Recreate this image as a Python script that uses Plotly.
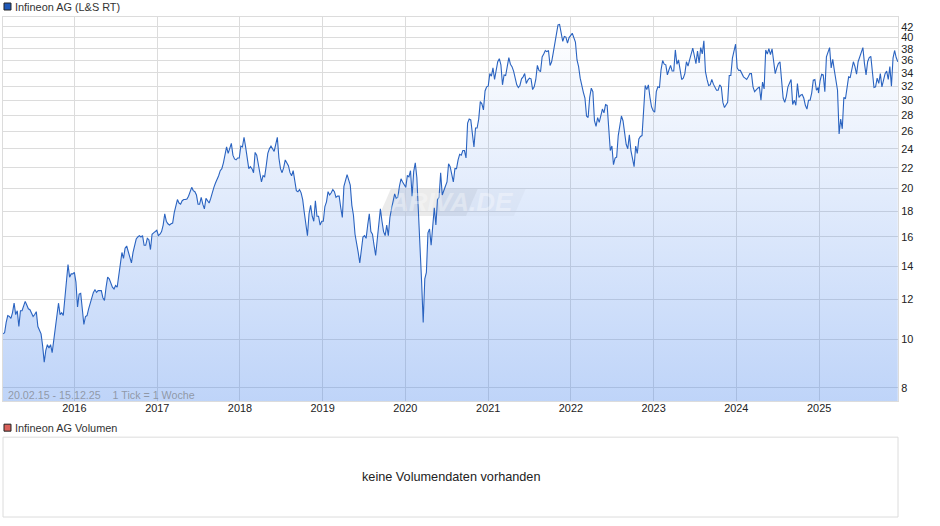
import pandas as pd
import plotly.graph_objects as go

# weekly closes, one list per calendar year
p2015 = [10.25,10.3,10.8,11.15,11.1,11.0,11.3,11.8,11.2,11.4,10.6,11.4,11.4,11.6,11.9,11.7,11.5,11.45,11.3,11.1,
         11.2,11.35,10.6,10.45,10.25,9.7,9.0,9.5,9.75,9.6,9.75,9.4,10.0,10.6,11.0,11.8,11.2,11.3,11.15,12.0,
         13.3,14.1,13.3,13.5,13.5,13.6]
p2016 = [13.0,11.6,12.3,12.35,11.5,10.7,11.1,11.15,11.5,11.8,12.1,12.4,12.55,12.4,12.5,12.5,12.5,12.1,11.95,12.7,
         13.3,13.2,12.95,12.7,12.6,12.8,12.7,13.5,14.2,14.9,14.5,15.2,15.35,15.0,14.6,14.2,14.9,15.5,15.85,16.0,
         16.1,16.0,16.1,15.4,15.4,15.9,15.8,15.1,16.2,16.3,16.4,16.5]
p2017 = [16.1,16.2,16.4,16.9,17.8,17.2,17.0,16.9,17.0,17.05,17.9,18.5,19.0,18.7,18.6,18.9,19.0,19.0,19.05,19.3,
         19.8,20.1,19.8,19.7,19.4,18.6,18.6,19.2,18.6,18.2,19.1,18.9,18.7,19.1,19.7,20.1,20.5,20.8,21.2,21.7,
         21.9,22.5,23.3,24.2,23.5,24.0,24.6,23.3,22.9,22.8,23.0,23.0]
p2018 = [24.3,24.2,25.3,24.2,22.9,21.9,22.1,21.9,21.5,23.6,23.3,22.2,21.2,20.6,21.2,21.1,22.2,23.5,24.0,24.3,
         24.0,23.7,24.5,25.3,23.0,21.9,21.5,22.0,22.8,22.5,22.2,21.5,21.2,21.7,20.9,19.8,19.7,19.9,19.6,19.0,
         17.9,16.8,16.1,17.8,18.5,17.6,17.2,18.9,17.6,17.6,16.9,17.2]
p2019 = [17.2,18.4,18.8,19.7,19.4,19.6,19.9,19.7,19.2,19.3,19.3,18.3,17.5,20.2,20.9,21.3,20.8,20.3,18.5,17.7,
         16.2,15.6,14.9,14.2,15.3,16.0,16.1,15.9,16.9,17.8,16.4,16.2,15.4,14.7,15.8,17.2,18.2,17.2,16.4,16.1,
         16.9,16.1,17.5,18.2,18.8,19.5,19.1,19.2,20.2,20.9,20.6,20.3]
p2020 = [20.1,21.2,21.1,21.7,19.3,21.6,22.5,21.0,18.0,16.0,13.0,10.8,13.2,13.6,16.3,16.6,15.4,16.8,18.3,16.9,
         19.0,19.2,21.5,19.4,19.9,20.2,20.6,22.4,22.1,21.1,20.6,21.9,21.9,22.8,23.4,23.3,23.8,23.8,23.0,27.0,
         27.5,27.4,25.5,24.2,26.4,26.4,27.5,29.8,29.5,28.7,31.3,31.9]
p2021 = [32.0,33.9,33.5,34.8,33.0,34.6,35.8,36.3,35.3,32.2,33.7,33.6,35.2,36.5,35.4,35.0,34.3,33.2,32.2,31.8,
         32.1,33.1,33.4,33.9,32.4,32.9,33.2,33.1,31.5,31.9,33.0,35.2,34.4,34.2,36.6,37.1,37.7,37.5,37.7,35.2,
         35.8,37.3,38.9,41.0,42.4,42.5,41.0,39.3,40.2,40.1,39.0,40.0]
p2022 = [40.8,40.0,39.2,36.1,35.0,33.2,31.9,31.1,30.3,27.9,27.7,30.4,31.7,31.2,27.3,26.6,27.7,27.1,27.9,28.8,
         28.3,29.4,29.3,26.6,23.8,24.3,22.3,23.0,23.1,25.5,26.8,27.9,27.3,25.6,24.5,24.0,25.6,23.8,22.7,22.1,
         24.3,23.5,25.1,25.4,25.5,29.5,32.1,31.5,32.2,30.4,29.1,28.6]
p2023 = [28.4,31.2,31.9,31.8,34.5,36.0,35.4,35.3,33.7,34.5,35.2,34.3,34.3,37.8,35.4,36.1,34.5,33.0,33.2,33.9,
         35.8,35.1,36.1,37.3,38.1,36.8,35.5,37.6,35.6,38.2,37.1,39.4,34.2,33.0,32.1,32.2,33.0,32.3,31.9,31.4,
         31.4,32.2,31.9,29.7,29.0,29.4,29.7,33.6,33.6,36.4,37.7,38.8]
p2024 = [34.8,34.4,34.4,33.9,33.4,33.2,33.0,33.4,33.9,33.9,31.9,31.2,31.5,31.7,31.9,30.0,32.6,31.6,37.8,37.1,
         38.0,37.0,38.0,36.0,33.9,34.8,35.5,35.8,32.5,30.3,29.7,30.5,31.9,32.5,33.0,29.4,30.0,29.3,32.4,30.4,
         30.7,30.8,30.3,29.3,28.8,30.0,30.0,31.0,32.9,33.0,31.4,31.8]
p2025 = [31.0,32.8,33.8,33.7,31.2,36.6,37.5,38.2,34.8,36.2,34.4,33.0,31.4,25.7,27.5,26.3,30.4,30.2,32.0,33.4,
         33.3,34.4,35.8,35.0,33.8,35.8,36.7,37.5,38.2,35.5,33.7,35.8,36.5,36.7,33.8,31.8,31.9,33.2,32.4,33.9,
         31.9,33.0,33.9,34.3,33.0,35.0,32.0,36.4,37.7,36.5,35.8]

year_starts = ["2015-02-20", "2016-01-08", "2017-01-06", "2018-01-05", "2019-01-04", "2020-01-03",
               "2021-01-01", "2022-01-07", "2023-01-06", "2024-01-05", "2024-12-29"]
year_values = [p2015, p2016, p2017, p2018, p2019, p2020, p2021, p2022, p2023, p2024, p2025]

price_ticks = [8, 10, 12, 14, 16, 18, 20, 22, 24, 26, 28, 30, 32, 34, 36, 38, 40, 42]
year_ticks = ["2016", "2017", "2018", "2019", "2020", "2021", "2022", "2023", "2024", "2025"]

dates = []
prices = []
for start, vals in zip(year_starts, year_values):
  dates += list(pd.date_range(start, periods=len(vals), freq="7D"))
  prices += vals

W, H = 940, 526
LEFT, RIGHT, TOP, BOTTOM = 2.5, 898.5, 16.5, 517.5

# pixel position on the page to paper coords, for the furniture around the chart
def px(x):
  return (x - LEFT) / (RIGHT - LEFT)

def py(y):
  return (BOTTOM - y) / (BOTTOM - TOP)

GRID = "#dcdcdc"
FONT = "Liberation Sans"

fig = go.Figure()
fig.add_trace(go.Scatter(
  x=dates, y=prices, mode="lines",
  line=dict(color="#2a63c0", width=1.1),
  fill="tozeroy",
  fillgradient=dict(type="vertical", start=43, stop=7.52,
                    colorscale=[[0, "rgba(60,125,235,0)"], [1, "rgba(60,125,235,0.33)"]]),
  showlegend=False, hoverinfo="x+y",
))

shapes = [
  # legend swatches
  dict(type="rect", xref="paper", yref="paper", x0=px(3.5), x1=px(10.5), y0=py(9.5), y1=py(2.5),
       fillcolor="#1f58b8", line=dict(color="#222222", width=1)),
  dict(type="rect", xref="paper", yref="paper", x0=px(3.5), x1=px(10.5), y0=py(431.5), y1=py(424.5),
       fillcolor="#d9605a", line=dict(color="#222222", width=1)),
  # empty volume panel
  dict(type="rect", xref="paper", yref="paper", x0=0, x1=1, y0=0, y1=py(437.5),
       line=dict(color=GRID, width=1)),
  # watermark plate, two tones
  dict(type="path", xref="paper", yref="paper", layer="below",
       path="M {} {} L {} {} L {} {} L {} {} Z".format(px(379), py(216), px(391), py(188), px(478), py(188), px(466), py(216)),
       fillcolor="rgba(170,170,170,0.24)", line=dict(width=0)),
  dict(type="path", xref="paper", yref="paper", layer="below",
       path="M {} {} L {} {} L {} {} L {} {} Z".format(px(466), py(216), px(478), py(188), px(526), py(188), px(514), py(216)),
       fillcolor="rgba(170,170,170,0.08)", line=dict(width=0)),
]

annotations = [
  dict(x=px(13), y=py(6), text="Infineon AG (L&amp;S RT)", xanchor="left", font=dict(size=10.9, color="#333333")),
  dict(x=px(13), y=py(428), text="Infineon AG Volumen", xanchor="left", font=dict(size=10.9, color="#333333")),
  dict(x=px(5.5), y=py(395), text="20.02.15 - 15.12.25&nbsp;&nbsp;&nbsp;&nbsp;1 Tick = 1 Woche", xanchor="left",
       font=dict(size=10.7, color="rgba(110,110,110,0.6)")),
  dict(x=px(451), y=py(477.5), text="keine Volumendaten vorhanden", xanchor="center", font=dict(size=12.7, color="#222222")),
  dict(x=px(451), y=py(202), text="<b><i>ARIVA.DE</i></b>", xanchor="center", font=dict(size=26, color="rgba(255,255,255,0.35)")),
]
for a in annotations:
  a.update(xref="paper", yref="paper", yanchor="middle", showarrow=False)

fig.update_layout(
  width=W, height=H,
  margin=dict(l=LEFT, r=W - RIGHT, t=TOP, b=H - BOTTOM, pad=0),
  paper_bgcolor="white", plot_bgcolor="white",
  font=dict(family=FONT, size=10.9, color="#222222"),
  showlegend=False,
  shapes=shapes, annotations=annotations,
  xaxis=dict(
    type="date", range=["2015-02-20", "2025-12-15"],
    tickvals=[y + "-01-01" for y in year_ticks], ticktext=year_ticks,
    ticklabelstandoff=-3,
    showgrid=True, gridcolor=GRID, gridwidth=1,
    showline=True, linecolor=GRID, mirror=True, ticks="", zeroline=False,
  ),
  yaxis=dict(
    type="log", range=[0.8762, 1.6432], domain=[py(401.5), 1], side="right",
    tickvals=price_ticks, ticktext=[str(v) for v in price_ticks],
    showgrid=True, gridcolor=GRID, gridwidth=1,
    showline=True, linecolor=GRID, mirror=True, ticks="", zeroline=False,
  ),
)

# the page has the browser's default body margin otherwise
fig.write_html("out.html", config=dict(displayModeBar=False),
               post_script="document.body.style.margin = '0';")
